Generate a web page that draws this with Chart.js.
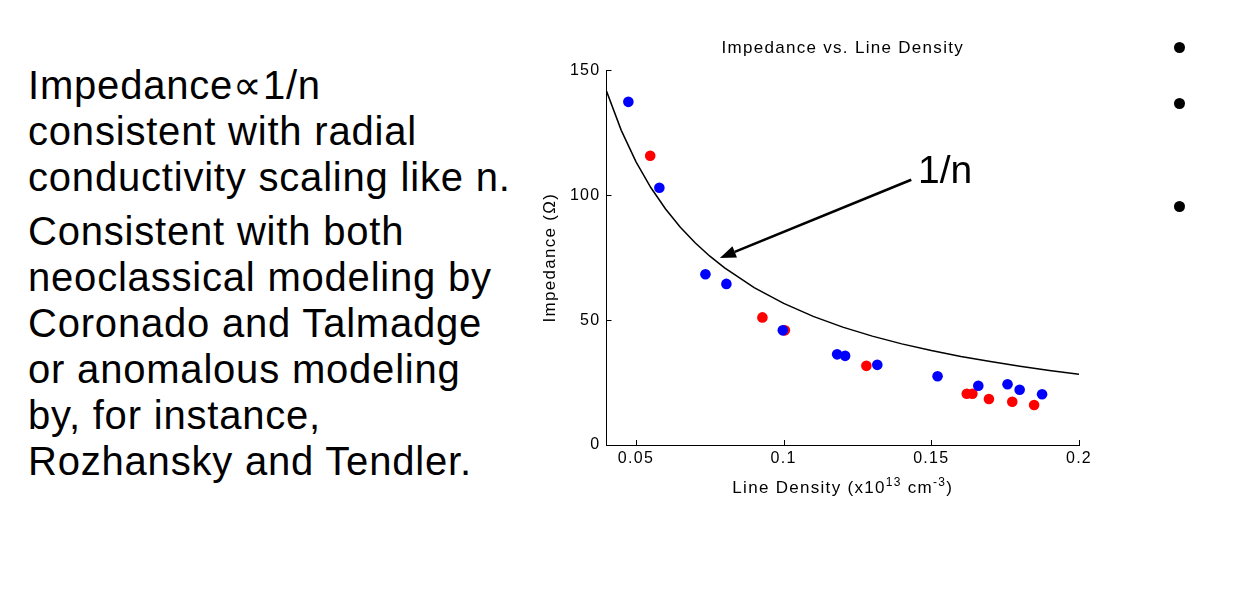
<!DOCTYPE html>
<html>
<head>
<meta charset="utf-8">
<script src="https://cdn.jsdelivr.net/npm/chart.js@4"></script>
<style>
  body { margin: 0; width: 1245px; height: 602px; background: #fff; position: relative; overflow: hidden; }
  .txt { position: absolute; left: 28px; font-family: 'Liberation Sans', Arial, sans-serif; font-size: 40px;
         letter-spacing: 0.8px; line-height: 46px; color: #000; white-space: nowrap; margin: 0; }
  .dot { position: absolute; width: 11px; height: 11px; border-radius: 50%; background: #000; }
  #wrap { position: absolute; left: 530px; top: 25px; width: 580px; height: 480px; }
</style>
</head>
<body>
<p class="txt" style="top:62px">Impedance∝1/n<br>consistent with radial<br>conductivity scaling like n.</p>
<p class="txt" style="top:208px">Consistent with both<br>neoclassical modeling by<br>Coronado and Talmadge<br>or anomalous modeling<br>by, for instance,<br>Rozhansky and Tendler.</p>
<div class="dot" style="left:1174px;top:42px"></div>
<div class="dot" style="left:1174px;top:98px"></div>
<div class="dot" style="left:1174px;top:201px"></div>
<div id="wrap"><canvas id="c" width="580" height="480"></canvas></div>
<script>
// blue / red measurement points (line density x1e13 cm^-3, impedance ohm)
const blueX = [0.0474, 0.0579, 0.0735, 0.0806, 0.0997, 0.1181, 0.1208, 0.1317, 0.1521, 0.1659, 0.1758, 0.1799, 0.1875]
const blueY = [137.4, 103.0, 68.4, 64.5, 45.9, 36.3, 35.7, 32.1, 27.5, 23.7, 24.3, 22.1, 20.3]
const redX = [0.0548, 0.0928, 0.1004, 0.1280, 0.1620, 0.1639, 0.1695, 0.1774, 0.1848]
const redY = [115.8, 51.1, 45.9, 31.7, 20.5, 20.5, 18.4, 17.3, 16.0]

// 1/n curve
const curveX = [0.04, 0.045, 0.05, 0.055, 0.06, 0.065, 0.07, 0.075, 0.08, 0.09, 0.1, 0.11, 0.12, 0.13, 0.14, 0.15, 0.16, 0.17, 0.18, 0.19, 0.2]
const curveY = [141.7, 126.0, 113.4, 103.1, 94.5, 87.2, 81.0, 75.6, 70.9, 63.0, 56.7, 51.5, 47.2, 43.6, 40.5, 37.8, 35.4, 33.4, 31.5, 29.8, 28.3]

const xTicks = [0.05, 0.1, 0.15, 0.2]
const xTickLabels = ['0.05', '0.1', '0.15', '0.2']
const yTicks = [0, 50, 100, 150]
const yTickLabels = ['0', '50', '100', '150']

// annotation anchors in data units
const arrowFrom = [0.1432, 106.2]
const arrowTo = [0.0784, 74.9]
const noteAt = [0.1455, 104.9]
const noteText = '1/n'

const FONT = "'Liberation Sans', Arial, sans-serif"
const toPts = (xs, ys) => xs.map((x, i) => ({x: x, y: ys[i]}))

const axisMarks = {
  id: 'axisMarks',
  beforeDraw(chart) {
    chart.ctx.letterSpacing = '1.3px'
  },
  afterDraw(chart) {
    const ctx = chart.ctx
    const {left, right, top, bottom} = chart.chartArea
    const xs = chart.scales.x, ys = chart.scales.y
    ctx.save()
    // inward ticks
    ctx.strokeStyle = '#000'
    ctx.lineWidth = 1
    ctx.beginPath()
    xTicks.forEach(v => {
      const px = Math.round(xs.getPixelForValue(v)) + 0.5
      ctx.moveTo(px, bottom); ctx.lineTo(px, bottom - 5)
    })
    yTicks.forEach(v => {
      const py = Math.round(ys.getPixelForValue(v)) + 0.5
      ctx.moveTo(left, py); ctx.lineTo(left + 5, py)
    })
    ctx.stroke()

    // x axis title with superscripts
    ctx.fillStyle = '#000'
    ctx.textBaseline = 'alphabetic'
    ctx.textAlign = 'left'
    const parts = [['Line Density (x10', 17, 0], ['13', 12, 7], [' cm', 17, 0], ['-3', 12, 7], [')', 17, 0]]
    let w = 0
    parts.forEach(p => { ctx.font = p[1] + 'px ' + FONT; w += ctx.measureText(p[0]).width })
    let cx = (left + right) / 2 - w / 2
    const base = bottom + 48
    parts.forEach(p => {
      ctx.font = p[1] + 'px ' + FONT
      ctx.fillText(p[0], cx, base - p[2])
      cx += ctx.measureText(p[0]).width
    })

    // arrow + label
    const x1 = xs.getPixelForValue(arrowFrom[0]), y1 = ys.getPixelForValue(arrowFrom[1])
    const x2 = xs.getPixelForValue(arrowTo[0]), y2 = ys.getPixelForValue(arrowTo[1])
    const ang = Math.atan2(y2 - y1, x2 - x1)
    const hl = 16, hw = 6
    const bx = x2 - hl * Math.cos(ang), by = y2 - hl * Math.sin(ang)
    ctx.lineWidth = 2.6
    ctx.beginPath()
    ctx.moveTo(x1, y1); ctx.lineTo(bx, by)
    ctx.stroke()
    ctx.beginPath()
    ctx.moveTo(x2, y2)
    ctx.lineTo(bx + hw * Math.sin(ang), by - hw * Math.cos(ang))
    ctx.lineTo(bx - hw * Math.sin(ang), by + hw * Math.cos(ang))
    ctx.closePath()
    ctx.fill()

    ctx.letterSpacing = '0px'
    ctx.font = '39px ' + FONT
    ctx.fillText(noteText, xs.getPixelForValue(noteAt[0]), ys.getPixelForValue(noteAt[1]))
    ctx.restore()
  }
}

new Chart(document.getElementById('c'), {
  type: 'scatter',
  data: {
    datasets: [
      {
        type: 'line',
        data: toPts(curveX, curveY),
        borderColor: '#000',
        borderWidth: 1.5,
        pointRadius: 0,
        tension: 0,
        fill: false
      },
      {
        data: toPts(blueX, blueY),
        backgroundColor: 'rgb(0,0,255)',
        borderWidth: 0,
        pointRadius: 5.3
      },
      {
        data: toPts(redX, redY),
        backgroundColor: 'rgb(255,0,0)',
        borderWidth: 0,
        pointRadius: 5.3
      }
    ]
  },
  options: {
    responsive: false,
    animation: false,
    devicePixelRatio: 1,
    layout: { padding: { left: 10.5, right: 31, top: 0, bottom: 5 } },
    plugins: {
      legend: { display: false },
      tooltip: { enabled: false },
      title: {
        display: true,
        fullSize: false,
        text: 'Impedance vs. Line Density',
        color: '#000',
        font: { family: FONT, size: 17, weight: 'normal' },
        padding: { top: 12.8, bottom: 12.2 }
      }
    },
    scales: {
      x: {
        type: 'linear',
        min: 0.04,
        max: 0.2,
        afterBuildTicks: s => { s.ticks = xTicks.map(v => ({value: v})) },
        afterFit: s => { s.height = 55 },
        grid: { display: false, drawTicks: false },
        border: { display: true, color: '#000', width: 1 },
        ticks: {
          color: '#000',
          padding: 4,
          maxRotation: 0,
          font: { family: FONT, size: 16 },
          callback: v => xTickLabels[xTicks.indexOf(v)]
        }
      },
      y: {
        type: 'linear',
        min: 0,
        max: 150,
        afterBuildTicks: s => { s.ticks = yTicks.map(v => ({value: v})) },
        afterFit: s => { s.width = 66 },
        grid: { display: false, drawTicks: false },
        border: { display: true, color: '#000', width: 1 },
        ticks: {
          color: '#000',
          padding: 6,
          font: { family: FONT, size: 16 },
          callback: v => yTickLabels[yTicks.indexOf(v)]
        },
        title: {
          display: true,
          text: 'Impedance (Ω)',
          color: '#000',
          padding: { top: 0, bottom: 0 },
          font: { family: FONT, size: 17 }
        }
      }
    }
  },
  plugins: [axisMarks]
})
</script>
</body>
</html>
